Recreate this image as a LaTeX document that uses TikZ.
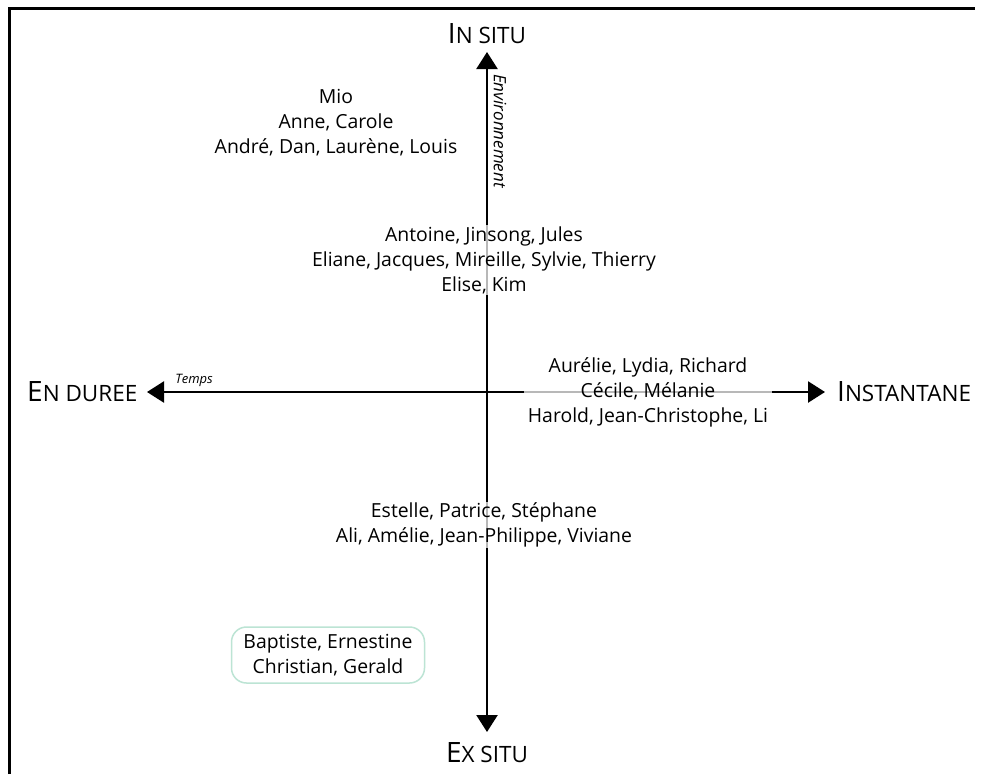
\documentclass[tikz,border=0pt]{standalone}
\usepackage{fontspec}
\setmainfont{Open Sans}
\usetikzlibrary{arrows.meta}
\definecolor{mint}{RGB}{188,228,212}
\tikzset{
  axis/.style={line width=2.4pt, {Triangle[length=17pt,width=21pt]}-{Triangle[length=17pt,width=21pt]}},
  group/.style={align=center, font=\fontsize{19.4}{25}\selectfont, fill=white, fill opacity=0.72,
    text opacity=1, inner xsep=4pt, inner ysep=1pt},
  pole/.style={inner sep=0pt},
  axislabel/.style={font=\itshape, inner sep=0pt},
}
\newcommand{\polename}[2]{{\fontsize{28}{30}\selectfont #1}{\fontsize{22.5}{24}\selectfont #2}}
\begin{document}
\begin{tikzpicture}[x=1pt,y=-1pt]
\fill[white] (0,0) rectangle (982,774);
\useasboundingbox (0,0) rectangle (982,774);
% frame (top and left edges)
\draw[line width=3pt] (9.5,774) -- (9.5,8) -- (975,8);

% axes
\coordinate (top) at (487,52);
\coordinate (bot) at (487,732);
\coordinate (left) at (147,392);
\coordinate (right) at (825,392);
\draw[axis] (bot) -- (top);
\draw[axis] (left) -- (right);

% poles
\node[pole] (insitu) at (487,34) {\polename{I}{N SITU}};
\node[pole] (exsitu) at (487,753) {\polename{E}{X SITU}};
\node[pole, anchor=west] (duree) at (27,392) {\polename{E}{N DUREE}};
\node[pole, anchor=west] (inst) at (837,392) {\polename{I}{NSTANTANE}};

% axis names
\node[axislabel, font=\itshape\fontsize{17}{19}\selectfont, rotate=-90] (env) at (500,131) {Environnement};
\node[axislabel, font=\itshape\fontsize{13}{15}\selectfont] (temps) at (194,380) {Temps};

% groups of participants
\node[group] (g1) at (336,123) {Mio\\Anne, Carole\\André, Dan, Laurène, Louis};
\node[group] (g2) at (484,260) {Antoine, Jinsong, Jules\\Eliane, Jacques, Mireille, Sylvie, Thierry\\Elise, Kim};
\node[group] (g3) at (648,392) {Aurélie, Lydia, Richard\\Cécile, Mélanie\\Harold, Jean-Christophe, Li};
\node[group] (g4) at (484,525) {Estelle, Patrice, Stéphane\\Ali, Amélie, Jean-Philippe, Viviane};
\node[group, draw=mint, draw opacity=1, line width=1.5pt, rounded corners=15pt,
  minimum width=193pt, minimum height=56pt] (g5) at (328,655) {Baptiste, Ernestine\\Christian, Gerald};
\end{tikzpicture}
\end{document}
